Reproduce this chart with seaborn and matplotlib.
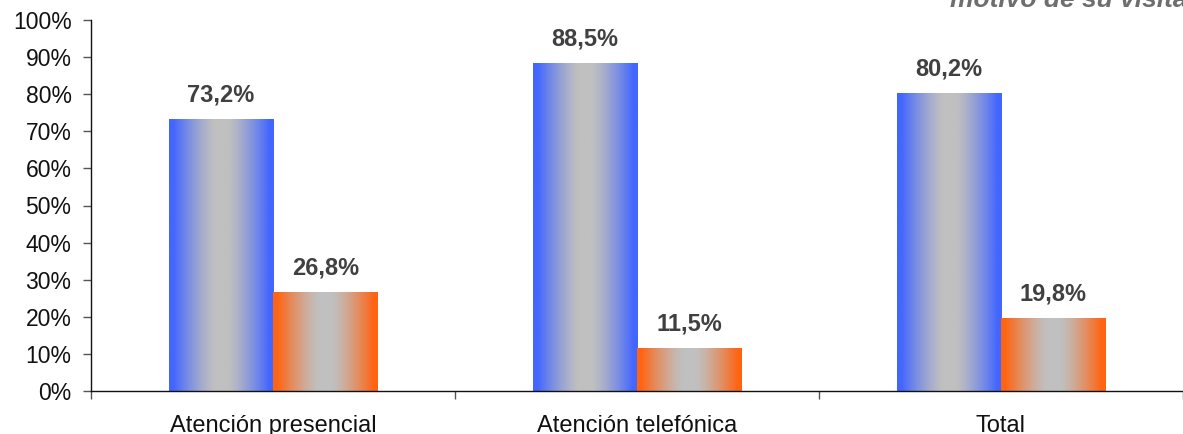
import numpy as np
import pandas as pd
import matplotlib
matplotlib.use("Agg")
import matplotlib.pyplot as plt
from matplotlib.colors import to_rgb
import seaborn as sns

# Data
categories = ["Atención presencial", "Atención telefónica", "Total"]
series = ["Sí", "No"]
values_si = [73.2, 88.5, 80.2]
values_no = [26.8, 11.5, 19.8]
yticks = [0, 10, 20, 30, 40, 50, 60, 70, 80, 90, 100]
title_text = "motivo de su visita"

edge_colors = {"Sí": "#4266ff", "No": "#ff6414"}
center_gray = "#c0c0c0"

df = pd.DataFrame({
    "categoria": categories * 2,
    "serie": [series[0]] * 3 + [series[1]] * 3,
    "valor": values_si + values_no,
})

sns.set_style("white")
plt.rcParams["font.family"] = ["Liberation Sans", "DejaVu Sans"]

fig = plt.figure(figsize=(11.83, 4.34), dpi=100)
ax = fig.add_axes([91 / 1183, 43 / 434, 1 - 91 / 1183, 371 / 434])

sns.barplot(data=df, x="categoria", y="valor", hue="serie", order=categories,
            hue_order=series, palette=edge_colors, width=0.574, gap=0,
            dodge=True, legend=False, saturation=1, ax=ax)

# Horizontal gradient fill: coloured edges fading to gray in the middle
xs = np.linspace(0, 1, 256)
d = np.abs(xs - 0.5) * 2
s = np.clip((d - 0.12) / 0.8, 0, 1) ** 1.3
gray = np.array(to_rgb(center_gray))

for p in list(ax.patches):
    fc = np.array(p.get_facecolor()[:3])
    x0, y0 = p.get_x(), p.get_y()
    w, h = p.get_width(), p.get_height()
    grad = gray[None, :] + (fc - gray)[None, :] * s[:, None]
    img = np.tile(grad[None, :, :], (2, 1, 1))
    im = ax.imshow(img, extent=[x0, x0 + w, y0, y0 + h], aspect="auto",
                   origin="lower", interpolation="bilinear", zorder=2)
    im.set_clip_path(p)
    p.set_facecolor("none")
    p.set_edgecolor("none")
    # value label
    ax.annotate(f"{h:.1f}%".replace(".", ","), (x0 + w / 2, y0 + h),
                xytext=(0, 9), textcoords="offset points", ha="center",
                va="bottom", fontsize=17, fontweight="bold", color="#404040",
                zorder=3)

ax.set_xlim(-0.5, 2.468)
ax.set_ylim(0, 100)
ax.set_yticks(yticks)
ax.set_yticklabels([f"{t}%" for t in yticks], fontsize=16.5, color="#111111")
ax.set_xticks(range(len(categories)))
ax.set_xticklabels(categories, fontsize=17, color="#111111")
ax.set_xticks([-0.5, 0.5, 1.5, 2.5], minor=True)
ax.tick_params(axis="x", which="major", length=0, pad=17)
ax.tick_params(axis="x", which="minor", length=6, width=1, color="#555555",
               direction="out", bottom=True)
ax.tick_params(axis="y", length=6, width=1, color="#555555", direction="out",
               left=True, pad=8)
ax.set_xlabel("")
ax.set_ylabel("")
for side in ["top", "right"]:
    ax.spines[side].set_visible(False)
for side in ["left", "bottom"]:
    ax.spines[side].set_color("#111111")
    ax.spines[side].set_linewidth(1)
ax.set_facecolor("white")
fig.patch.set_facecolor("white")

fig.text(1.004, 1 - 7 / 434, title_text, ha="right", va="baseline",
         fontsize=19, fontweight="bold", fontstyle="italic", color="#6e6e6e")

fig.savefig("out.png", dpi=100)
